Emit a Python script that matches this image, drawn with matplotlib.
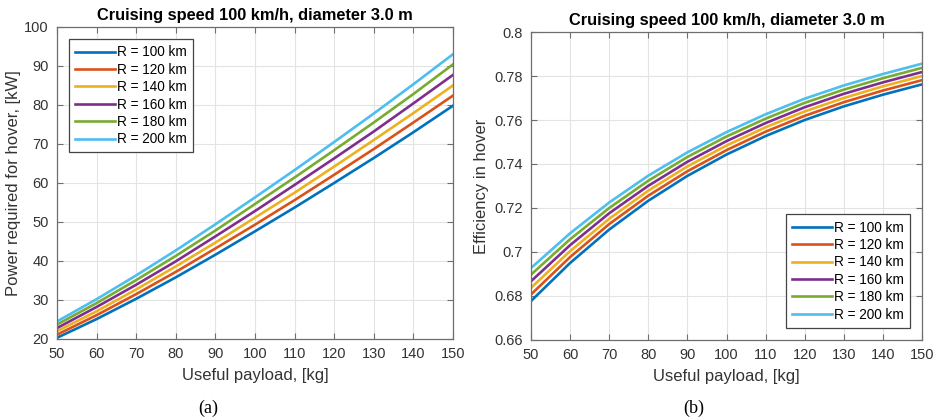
import matplotlib
matplotlib.use("Agg")
import matplotlib.pyplot as plt
from matplotlib.ticker import FuncFormatter

plt.rcParams["font.family"] = ["Liberation Sans", "DejaVu Sans"]

payload = [50, 60, 70, 80, 90, 100, 110, 120, 130, 140, 150]
ranges = ["R = 100 km", "R = 120 km", "R = 140 km", "R = 160 km", "R = 180 km", "R = 200 km"]

# power required for hover, kW
p_100 = [20.3, 25.1, 30.3, 35.8, 41.6, 47.6, 53.7, 60.0, 66.4, 73.0, 79.8]
p_120 = [21.1, 26.1, 31.5, 37.2, 43.2, 49.3, 55.6, 62.1, 68.7, 75.5, 82.4]
p_140 = [22.0, 27.1, 32.7, 38.6, 44.7, 51.1, 57.5, 64.2, 71.0, 77.9, 85.0]
p_160 = [22.8, 28.2, 33.9, 39.9, 46.3, 52.8, 59.5, 66.3, 73.2, 80.4, 87.7]
p_180 = [23.7, 29.2, 35.1, 41.3, 47.8, 54.6, 61.4, 68.4, 75.5, 82.8, 90.4]
p_200 = [24.5, 30.2, 36.3, 42.7, 49.4, 56.3, 63.3, 70.5, 77.8, 85.3, 93.0]

# efficiency in hover
e_100 = [.6777, .6950, .7102, .7233, .7346, .7443, .7527, .7600, .7662, .7715, .7762]
e_120 = [.6807, .6977, .7127, .7256, .7367, .7463, .7547, .7619, .7681, .7734, .7781]
e_140 = [.6837, .7004, .7151, .7279, .7389, .7484, .7567, .7639, .7700, .7753, .7800]
e_160 = [.6867, .7031, .7176, .7301, .7410, .7504, .7586, .7658, .7719, .7771, .7818]
e_180 = [.6897, .7058, .7200, .7324, .7432, .7525, .7606, .7678, .7738, .7790, .7837]
e_200 = [.6927, .7085, .7225, .7347, .7453, .7545, .7626, .7697, .7757, .7809, .7856]

power = [p_100, p_120, p_140, p_160, p_180, p_200]
eff = [e_100, e_120, e_140, e_160, e_180, e_200]
COLORS = ["#0072BD", "#D95319", "#EDB120", "#7E2F8E", "#77AC30", "#4DBEEE"]
TXT = "#333333"
TITLE = "Cruising speed 100 km/h, diameter 3.0 m"


def style(ax):
    ax.grid(True, color="#e3e3e3", lw=0.8)
    ax.set_axisbelow(True)
    for s in ax.spines.values():
        s.set_color("#6e6e6e")
        s.set_linewidth(0.9)
    ax.tick_params(direction="in", top=True, right=True, length=4, pad=6,
                   color="#6e6e6e", labelcolor=TXT, labelsize=10.5)
    ax.set_xlim(50, 150)
    ax.set_xticks(range(50, 151, 10))
    ax.set_xlabel("Useful payload, [kg]", fontsize=12, color=TXT, labelpad=5)


def legend(ax, loc):
    leg = ax.legend(loc=loc, fontsize=9.8, handlelength=2.9, handletextpad=0.15,
                    labelspacing=0.25, borderaxespad=0.9, fancybox=False,
                    framealpha=1, borderpad=0.45)
    leg.get_frame().set_edgecolor("#444444")
    leg.get_frame().set_linewidth(0.9)


fig = plt.figure(figsize=(9.37, 4.2), dpi=100)
ax1 = fig.add_axes([0.0608, 0.1929, 0.4226, 0.7429])
ax2 = fig.add_axes([0.5667, 0.1905, 0.4173, 0.7333])

for vals, lab, c in zip(power, ranges, COLORS):
    ax1.plot(payload, vals, color=c, lw=1.9, label=lab)
style(ax1)
ax1.set_ylim(20, 100)
ax1.set_yticks(range(20, 101, 10))
ax1.set_ylabel("Power required for hover, [kW]", fontsize=12, color=TXT, labelpad=2)
ax1.set_title(TITLE, fontsize=11.8, fontweight="bold", color="black", pad=5)
legend(ax1, "upper left")

for vals, lab, c in zip(eff, ranges, COLORS):
    ax2.plot(payload, vals, color=c, lw=1.9, label=lab)
style(ax2)
ax2.set_ylim(0.66, 0.8)
ax2.set_yticks([0.66, 0.68, 0.70, 0.72, 0.74, 0.76, 0.78, 0.80])
ax2.yaxis.set_major_formatter(FuncFormatter(lambda v, p: f"{v:g}"))
ax2.set_ylabel("Efficiency in hover", fontsize=12, color=TXT, labelpad=4)
ax2.set_title(TITLE, fontsize=11.8, fontweight="bold", color="black", pad=5)
legend(ax2, "lower right")

fig.text(0.222, 0.018, "(a)", fontsize=13, family="Liberation Serif", ha="center")
fig.text(0.740, 0.018, "(b)", fontsize=13, family="Liberation Serif", ha="center")

fig.savefig("out.png", dpi=100)
